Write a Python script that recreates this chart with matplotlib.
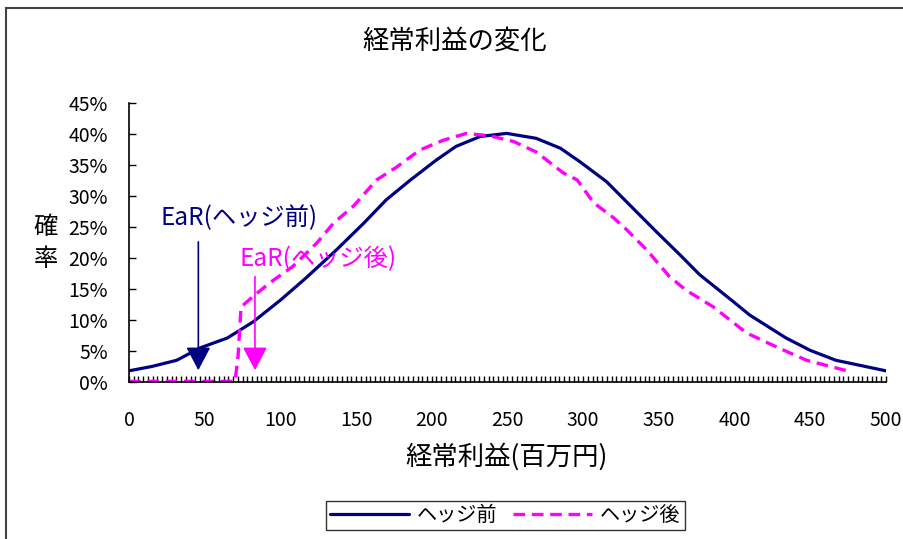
import matplotlib
matplotlib.use("Agg")
import matplotlib.pyplot as plt
from matplotlib.lines import Line2D
from matplotlib.ticker import MultipleLocator

plt.rcParams['font.family'] = ['Noto Sans CJK JP', 'DejaVu Sans']

# 経常利益 (百万円) と確率 (%)
before_x = [0, 15, 31.5, 47, 65, 82, 100, 117, 137, 155, 170, 186, 203, 216, 232,
            249.5, 269, 285, 298, 315.5, 333, 348.5, 364, 377, 399, 410, 434, 450, 467, 500]
before_y = [1.8, 2.5, 3.5, 5.5, 7.1, 9.7, 13.2, 16.8, 21.3, 25.6, 29.4, 32.6, 35.8, 38.0, 39.6,
            40.1, 39.3, 37.7, 35.5, 32.3, 28.0, 24.2, 20.5, 17.3, 13.0, 10.8, 7.1, 5.1, 3.5, 1.8]

after_x = [0, 70, 72, 74, 82, 93, 108, 124, 135, 148, 163.6, 177, 192, 207.6, 223,
           238.5, 254, 269, 287, 296, 307, 320, 329, 342, 357, 368, 386, 408, 430, 447.6, 476]
after_y = [0.1, 0.1, 4, 12.1, 13.8, 16, 18.6, 22.4, 25.6, 28.3, 32.6, 34.7, 37.4, 39, 40.1,
           39.7, 38.8, 37.1, 33.7, 32.6, 28.9, 26.5, 24.5, 21.3, 17, 14.8, 12.1, 7.9, 5.4, 3.5, 1.7]

ear_before = 45.8
ear_after = 83.2

x_ticks = [0, 50, 100, 150, 200, 250, 300, 350, 400, 450, 500]
y_ticks = [0, 5, 10, 15, 20, 25, 30, 35, 40, 45]

NAVY = "#000080"
PINK = "#FF00FF"

fig = plt.figure(figsize=(9.04, 5.39), dpi=100)
ax = fig.add_axes([0.1427, 0.2913, 0.8373, 0.5176])

ax.plot(before_x, before_y, color=NAVY, lw=2.3, label="ヘッジ前", solid_capstyle="round")
ax.plot(after_x, after_y, color=PINK, lw=2.4, label="ヘッジ後", dashes=(3.5, 2.0))

# EaR arrows
ax.annotate("", xy=(ear_before, 1.9), xytext=(ear_before, 22.6),
            arrowprops=dict(arrowstyle="-|>,head_length=0.72,head_width=0.38",
                            mutation_scale=20, lw=1.2, color=NAVY, shrinkA=0, shrinkB=0))
ax.annotate("", xy=(ear_after, 1.9), xytext=(ear_after, 17.0),
            arrowprops=dict(arrowstyle="-|>,head_length=0.72,head_width=0.38",
                            mutation_scale=20, lw=1.2, color=PINK, shrinkA=0, shrinkB=0))
ax.text(20.5, 26.5, "EaR(ヘッジ前)", color=NAVY, fontsize=17.5, va="center", ha="left")
ax.text(73.3, 19.8, "EaR(ヘッジ後)", color=PINK, fontsize=17.5, va="center", ha="left")

ax.set_xlim(0, 500)
ax.set_ylim(0, 45)
ax.set_xticks(x_ticks)
ax.set_xticklabels([str(v) for v in x_ticks])
ax.xaxis.set_minor_locator(MultipleLocator(3.125))
ax.set_yticks(y_ticks)
ax.set_yticklabels([f"{v}%" for v in y_ticks])

for s in ("top", "right"):
    ax.spines[s].set_visible(False)
for s in ("left", "bottom"):
    ax.spines[s].set_linewidth(1.2)
ax.tick_params(axis="x", which="both", direction="in", length=4, width=1, labelsize=14, pad=20)
ax.tick_params(axis="y", direction="in", length=5, width=1, labelsize=14, pad=15)

fig.text(507 / 904, 1 - 457 / 539, "経常利益(百万円)", fontsize=19, ha="center", va="center")
fig.text(46 / 904, 1 - 243 / 539, "確\n率", fontsize=17.5, ha="center", va="center", linespacing=1.3)
fig.text(455 / 904, 1 - 41 / 539, "経常利益の変化", fontsize=19, ha="center", va="center")

leg = ax.legend(loc="center", bbox_to_anchor=(0.559, 0.0436), bbox_transform=fig.transFigure,
                ncol=2, fontsize=14.5, frameon=True, fancybox=False, handlelength=3.9,
                columnspacing=0.8, handletextpad=0.4, borderpad=0.2)
leg.get_frame().set_edgecolor("black")
leg.get_frame().set_linewidth(1)

# outer chart frame (runs off the right and bottom edges)
fig.add_artist(Line2D([6 / 904, 6 / 904], [0, 1 - 8 / 539], color="#444444", lw=1.5))
fig.add_artist(Line2D([6 / 904, 1], [1 - 8 / 539, 1 - 8 / 539], color="#444444", lw=1.5))

fig.savefig("out.png", dpi=100)
